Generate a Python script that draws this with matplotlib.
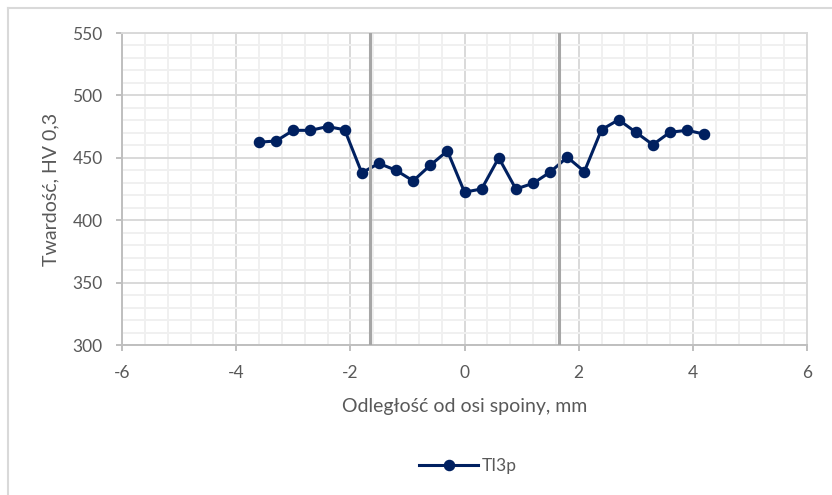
import matplotlib
matplotlib.use("Agg")
import matplotlib.pyplot as plt
from matplotlib.lines import Line2D
from matplotlib.ticker import MultipleLocator

plt.rcParams['font.family'] = ['Lato', 'DejaVu Sans']

# Hardness profile across the weld
distance_mm = [-3.6, -3.3, -3.0, -2.7, -2.4, -2.1, -1.8, -1.5, -1.2, -0.9, -0.6, -0.3,
               0.0, 0.3, 0.6, 0.9, 1.2, 1.5, 1.8, 2.1, 2.4, 2.7, 3.0, 3.3, 3.6, 3.9, 4.2]
hardness_hv = [462.5, 463.5, 472, 472, 475, 472.5, 438, 445.5, 440, 431.5, 444, 455.5,
               422.5, 425, 450, 425, 429.5, 438.5, 450.5, 439, 472.5, 480.5, 470.5, 460.5,
               470.5, 472, 469]
series_name = "TI3p"

# Fusion line positions
fusion_lines_mm = [-1.65, 1.65]

x_label = "Odległość od osi spoiny, mm"
y_label = "Twardość, HV 0,3"

navy = "#002060"
text_gray = "#595959"
axis_gray = "#bfbfbf"
major_grid = "#d9d9d9"
minor_grid = "#f0f0f0"

W, H = 832, 495
fig = plt.figure(figsize=(W / 100, H / 100), dpi=100)
ax = fig.add_axes([122 / W, 1 - 345 / H, (807 - 122) / W, (345 - 33) / H])

ax.set_xlim(-6, 6)
ax.set_ylim(300, 550)
ax.xaxis.set_major_locator(MultipleLocator(2))
ax.xaxis.set_minor_locator(MultipleLocator(0.4))
ax.yaxis.set_major_locator(MultipleLocator(50))
ax.yaxis.set_minor_locator(MultipleLocator(10))

ax.grid(which='minor', color=minor_grid, linewidth=1.4, zorder=0)
ax.grid(which='major', color=major_grid, linewidth=1.4, zorder=0)
ax.set_axisbelow(True)

for side in ('top', 'right'):
    ax.spines[side].set_color(major_grid)
    ax.spines[side].set_linewidth(1.4)
for side in ('left', 'bottom'):
    ax.spines[side].set_color(axis_gray)
    ax.spines[side].set_linewidth(1.4)

ax.tick_params(which='major', direction='out', length=4.5, width=1.4, color=axis_gray,
               labelcolor=text_gray, labelsize=12.5)
ax.tick_params(which='minor', length=0)
ax.tick_params(axis='x', pad=10)
ax.tick_params(axis='y', pad=9.5)

ax.plot(distance_mm, hardness_hv, color=navy, linewidth=2.2, marker='o',
        markersize=7.3, markerfacecolor=navy, markeredgecolor=navy,
        label=series_name, zorder=3)

for xv in fusion_lines_mm:
    ax.axvline(xv, color="#a6a6a6", linewidth=2.2, zorder=4)

ax.set_xticklabels([f"{int(v)}" for v in ax.get_xticks()])
ax.set_yticklabels([f"{int(v)}" for v in ax.get_yticks()])

ax.set_xlabel(x_label, color=text_gray, fontsize=14, labelpad=12)
ax.set_ylabel(y_label, color=text_gray, fontsize=14, labelpad=9)

leg = fig.legend(handles=[Line2D([], [], color=navy, linewidth=2.2, marker='o',
                                 markersize=7.3, label=series_name)],
                 loc='center', bbox_to_anchor=(468 / W, 1 - 466 / H), frameon=False,
                 fontsize=12.5, handlelength=3.4, handletextpad=0.2)
for t in leg.get_texts():
    t.set_color(text_gray)

# Chart frame (left and top edges)
fig.add_artist(Line2D([8 / W, 8 / W], [0, 1 - 8 / H], transform=fig.transFigure,
                      color="#d9d9d9", linewidth=1.5))
fig.add_artist(Line2D([8 / W, 1], [1 - 8 / H, 1 - 8 / H], transform=fig.transFigure,
                      color="#d9d9d9", linewidth=1.5))

fig.savefig("out.png", dpi=100, facecolor="white")
